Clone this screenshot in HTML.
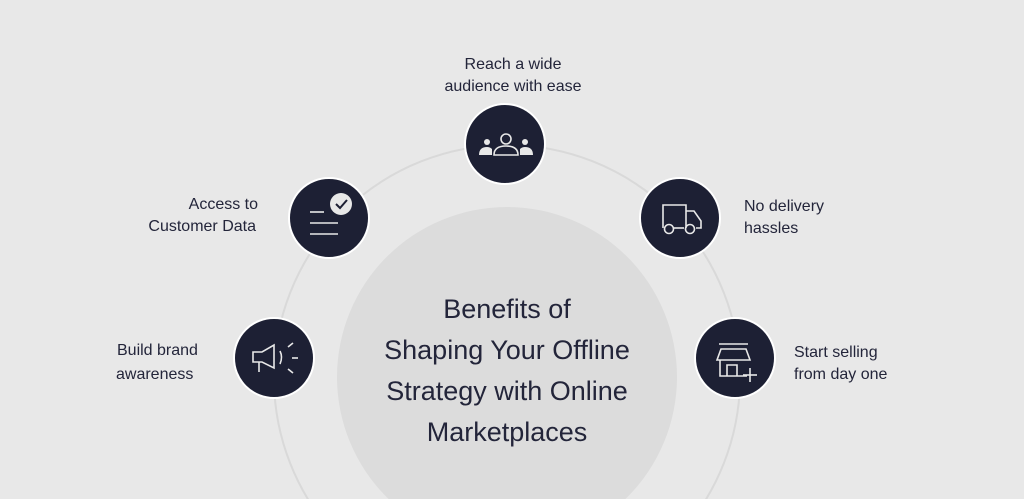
<!DOCTYPE html>
<html><head><meta charset="utf-8"><style>
html,body{margin:0;padding:0;background:#e8e8e8;width:1024px;height:499px;overflow:hidden;}
svg{display:block;}
text{font-family:"Liberation Sans",sans-serif;fill:#23253a;}
</style></head><body>
<svg width="1024" height="499" viewBox="0 0 1024 499" xmlns="http://www.w3.org/2000/svg" style="overflow:hidden">
<rect width="1024" height="499" fill="#e8e8e8"/>
<circle cx="507" cy="378" r="233" fill="none" stroke="#d9d9d9" stroke-width="2"/>
<circle cx="507" cy="377" r="170" fill="#dcdcdc"/>
<g font-size="27" text-anchor="middle">
<text x="507" y="318">Benefits of</text>
<text x="507" y="359">Shaping Your Offline</text>
<text x="507" y="400">Strategy with Online</text>
<text x="507" y="441">Marketplaces</text>
</g>
<g fill="#1d2034" stroke="#ffffff" stroke-width="2">
<circle cx="505" cy="144" r="40"/>
<circle cx="329" cy="218" r="40"/>
<circle cx="680" cy="218" r="40"/>
<circle cx="274" cy="358" r="40"/>
<circle cx="735" cy="358" r="40"/>
</g>
<g fill="none" stroke="#e8e8e8" stroke-width="1.6">
<circle cx="506" cy="139" r="5"/>
<path d="M494 155 Q494 146 506 146 Q518 146 518 155 Z"/>
</g>
<g fill="#e8e8e8">
<circle cx="487" cy="142" r="3"/><path d="M479 155 Q479 147 487 147 Q490 147 492 149 L492 155Z"/>
<circle cx="525" cy="142" r="3"/><path d="M533 155 Q533 147 525 147 Q522 147 520 149 L520 155Z"/>
</g>
<g stroke="#e8e8e8" stroke-width="1.6" fill="none">
<line x1="310" y1="212" x2="324" y2="212"/>
<line x1="310" y1="223" x2="338" y2="223"/>
<line x1="310" y1="234" x2="338" y2="234"/>
</g>
<circle cx="341" cy="204" r="11" fill="#e8e8e8"/>
<path d="M336 204 L340 208 L347 200" stroke="#1d2034" stroke-width="2" fill="none"/>
<g stroke="#e8e8e8" stroke-width="1.6" fill="none">
<path d="M663 228 L663 205 L686 205 L686 228"/>
<path d="M686 211 L694 211 L701 221 L701 228 L696 228"/>
<line x1="674" y1="228" x2="684" y2="228"/>
<circle cx="669" cy="229" r="4.5"/><circle cx="690" cy="229" r="4.5"/>
</g>
<g stroke="#e8e8e8" stroke-width="1.6" fill="none">
<path d="M253 352 L262 352 L274 345 L274 368 L262 362 L253 362 Z"/>
<line x1="259" y1="362" x2="259" y2="372"/>
<path d="M280 351 Q283 357 280 364"/>
<line x1="288" y1="347" x2="293" y2="343"/>
<line x1="292" y1="358" x2="298" y2="358"/>
<line x1="288" y1="369" x2="293" y2="373"/>
</g>
<g stroke="#e8e8e8" stroke-width="1.6" fill="none">
<line x1="719" y1="344" x2="748" y2="344"/>
<path d="M721 349 L746 349 L750 360 L717 360 Z"/>
<path d="M720 360 L720 376 L747 376"/>
<path d="M727 376 L727 365 L737 365 L737 376"/>
<line x1="750" y1="368" x2="750" y2="382"/>
<line x1="743" y1="375" x2="757" y2="375"/>
</g>
<g font-size="16">
<text x="513" y="69" text-anchor="middle">Reach a wide</text>
<text x="513" y="91" text-anchor="middle">audience with ease</text>
<text x="258" y="209" text-anchor="end">Access to</text>
<text x="256" y="231" text-anchor="end">Customer Data</text>
<text x="744" y="211">No delivery</text>
<text x="744" y="233">hassles</text>
<text x="117" y="355">Build brand</text>
<text x="116" y="379">awareness</text>
<text x="794" y="357">Start selling</text>
<text x="794" y="379">from day one</text>
</g>
</svg>
</body></html>
